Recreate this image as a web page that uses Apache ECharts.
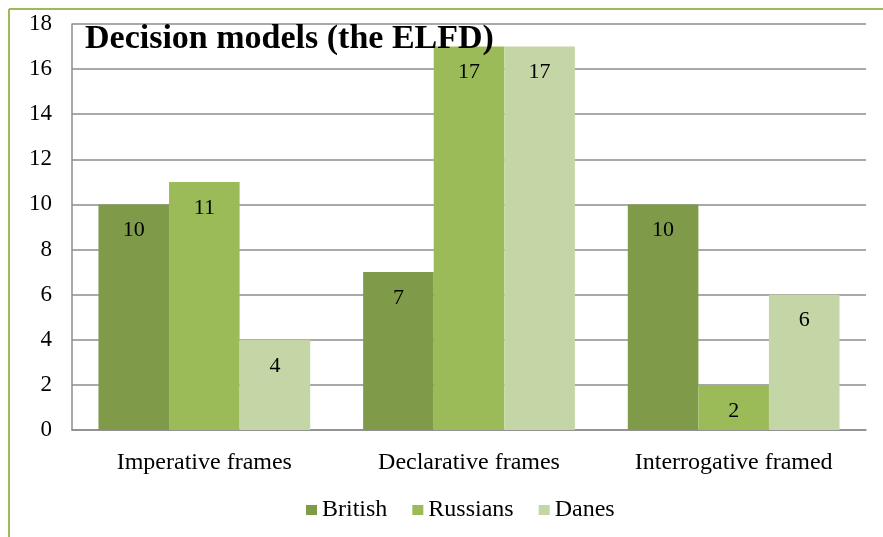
<!DOCTYPE html>
<html><head><meta charset="utf-8">
<script src="https://cdn.jsdelivr.net/npm/echarts@6/dist/echarts.min.js"></script>
<style>html,body{margin:0;padding:0;background:#fff}#c{width:883px;height:537px}</style>
</head><body><div id="c"></div>
<script>
var titleText = 'Decision models (the ELFD)';
var categories = ['Imperative frames', 'Declarative frames', 'Interrogative framed'];
var seriesNames = ['British', 'Russians', 'Danes'];
var british = [10, 7, 10];
var russians = [11, 17, 2];
var danes = [4, 17, 6];
var colors = ['#7F9A48', '#9BBB59', '#C4D6A5'];
var serif = '"Liberation Serif", "DejaVu Serif", serif';

var chart = echarts.init(document.getElementById('c'), null, {renderer: 'canvas'});
function mk(name, data, color) {
  return {
    name: name, type: 'bar', data: data, barGap: '0%', barCategoryGap: '20%',
    itemStyle: {color: color},
    label: {show: true, position: 'insideTop', distance: 15, color: '#000', fontFamily: serif, fontSize: 22}
  };
}
chart.setOption({
  animation: false,
  graphic: [
    {type: 'line', shape: {x1: 9, y1: 9, x2: 883, y2: 9}, style: {stroke: '#9BBB59', lineWidth: 2}},
    {type: 'line', shape: {x1: 9, y1: 9, x2: 9, y2: 537}, style: {stroke: '#9BBB59', lineWidth: 2}}
  ],
  title: {text: titleText, left: 80, top: 17, textStyle: {fontFamily: serif, fontSize: 34, fontWeight: 'bold', color: '#000'}},
  legend: {
    data: seriesNames, top: 493, left: 301, itemWidth: 11, itemHeight: 10, itemGap: 25,
    icon: 'rect', textStyle: {fontFamily: serif, fontSize: 24, color: '#000', padding: [0, 0, 0, 0]}
  },
  grid: {left: 72, right: 17, top: 24, bottom: 107, containLabel: false},
  xAxis: {
    type: 'category', data: categories,
    axisLine: {lineStyle: {color: '#8C8C8C', width: 1.5}},
    axisTick: {show: false},
    axisLabel: {fontFamily: serif, fontSize: 24, color: '#000', margin: 21}
  },
  yAxis: {
    type: 'value', min: 0, max: 18, interval: 2,
    axisLine: {show: true, lineStyle: {color: '#8C8C8C', width: 1.5}},
    axisTick: {show: false},
    splitLine: {lineStyle: {color: '#8C8C8C', width: 1.5}},
    axisLabel: {fontFamily: serif, fontSize: 23, color: '#000', margin: 20}
  },
  series: [mk(seriesNames[0], british, colors[0]), mk(seriesNames[1], russians, colors[1]), mk(seriesNames[2], danes, colors[2])]
});
</script></body></html>
